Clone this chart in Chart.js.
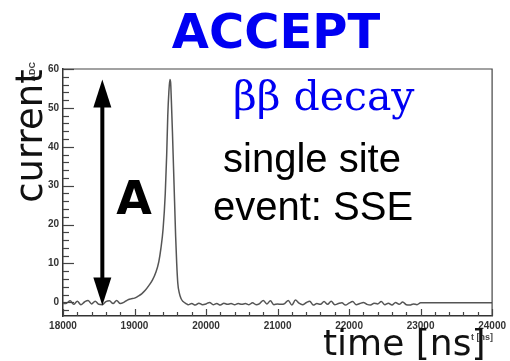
<!DOCTYPE html>
<html>
<head>
<meta charset="utf-8">
<script src="https://cdn.jsdelivr.net/npm/chart.js@4.4.0/dist/chart.umd.min.js"></script>
<style>
  html, body { margin: 0; padding: 0; background: #fff; }
  #wrap { width: 510px; height: 361px; }
</style>
</head>
<body>
<div id="wrap"><canvas id="pulse" width="510" height="361"></canvas></div>
<script>
// --- PULSE DATA (time in ns, current in ADC counts) ---
const timeNs = [
  18000, 18050, 18100, 18150, 18200, 18250, 18300, 18350, 18400, 18450,
  18500, 18550, 18600, 18650, 18700, 18750, 18800, 18850,
  18900, 18950, 19000, 19050, 19100, 19150, 19200, 19250, 19300, 19340,
  19370, 19400, 19430, 19450, 19465, 19480, 19495, 19505, 19515, 19530,
  19545, 19560, 19575, 19590, 19605, 19625, 19650, 19680, 19720,
  19750, 19800, 19850, 19900, 19950, 20000, 20050, 20100, 20150, 20200,
  20250, 20300, 20350, 20400, 20450, 20500, 20550, 20600, 20650, 20700,
  20750, 20800, 20850, 20900, 20950, 21000, 21050, 21100, 21150, 21200,
  21250, 21300, 21350, 21400, 21450, 21500, 21550, 21600, 21650, 21700,
  21750, 21800, 21850, 21900, 21950, 22000, 22050, 22100, 22150, 22200,
  22250, 22300, 22350, 22400, 22450, 22500, 22550, 22600, 22650, 22700,
  22750, 22800, 22850, 22900, 22950, 23000, 24000
];
const currentAdc = [
  -0.3, -0.2, 0.4, -0.5, 0.3, -0.6, 0.1, 0.5, -0.4, 0.3,
  -0.5, -0.6, 0.2, 0.4, -0.3, 0.5, -0.3, 0.0,
  0.6, 0.9, 1.1, 1.6, 2.2, 3.1, 4.3, 5.7, 7.8, 10.5,
  14, 19, 28, 38, 48, 54, 57.3, 56.5, 52, 44,
  35, 26, 17, 10, 5, 2.5, 1, 0.2, -0.3,
  -0.6, -0.3, -0.7, -0.2, -0.6, -0.4, 0.0, -0.6, -0.3, -0.7,
  -0.2, -0.5, -0.3, -0.6, -0.3, -0.5, -0.3, -0.6, -0.1, -0.6,
  -0.3, 0.5, -0.4, 0.4, -0.6, -0.4, -0.5, -0.3, 0.5, -0.7,
  0.6, -0.2, -0.6, -0.1, 0.3, -0.7, -0.3, -0.5, 0.2, -0.5,
  0.3, -0.6, -0.3, -0.1, -0.7, -0.2, 0.2, -0.6, -0.3, 0.0,
  -0.5, -0.7, -0.2, -0.4, 0.2, -0.6, -0.2, -0.7, 0.0, -0.5,
  0.1, -0.6, -0.7, -0.4, -0.6, -0.1, -0.1
];

// axis ticks
const xTicks = [18000, 19000, 20000, 21000, 22000, 23000, 24000];
const yTicks = [0, 10, 20, 30, 40, 50, 60];
const xMinorStep = 200;
const yMinorStep = 2;

// amplitude arrow sits here on the time axis
const arrowTime = 18550;

const peakValue = Math.max(...currentAdc);

// --- ROOT-style frame: inward ticks + top/right border ---
const rootFrame = {
  id: 'rootFrame',
  beforeDraw(chart) {
    const c = chart.ctx;
    c.save();
    c.fillStyle = '#fff';
    c.fillRect(0, 0, chart.width, chart.height);
    c.restore();
  },
  afterDatasetsDraw(chart) {
    const { ctx: c, chartArea: a, scales: { x, y } } = chart;
    c.save();
    c.strokeStyle = '#444';
    c.lineWidth = 1.2;

    // top + right border
    c.beginPath();
    c.moveTo(a.left, a.top);
    c.lineTo(a.right, a.top);
    c.lineTo(a.right, a.bottom);
    c.stroke();

    // x ticks (pointing up from the bottom axis)
    for (let t = x.min; t <= x.max + 1; t += xMinorStep) {
      const px = Math.round(x.getPixelForValue(t)) + 0.5;
      const len = xTicks.includes(t) ? 7 : 4;
      c.beginPath();
      c.moveTo(px, a.bottom);
      c.lineTo(px, a.bottom - len);
      c.stroke();
    }
    // y ticks (pointing right from the left axis)
    for (let v = -2; v <= y.max; v += yMinorStep) {
      const py = Math.round(y.getPixelForValue(v)) + 0.5;
      const len = yTicks.includes(v) ? 11 : 6;
      c.beginPath();
      c.moveTo(a.left, py);
      c.lineTo(a.left + len, py);
      c.stroke();
    }
    c.restore();
  },
  afterDraw(chart) {
    const { ctx: c, scales: { x, y } } = chart;
    c.save();

    // amplitude arrow, from baseline up to the pulse maximum
    const ax = x.getPixelForValue(arrowTime);
    const yTop = y.getPixelForValue(peakValue);
    const yBot = y.getPixelForValue(0) + 3;
    const head = 28, half = 9;
    c.fillStyle = '#000';
    c.strokeStyle = '#000';
    c.lineWidth = 4;
    c.beginPath();
    c.moveTo(ax, yTop + head - 2);
    c.lineTo(ax, yBot - head + 2);
    c.stroke();
    c.beginPath();
    c.moveTo(ax, yTop);
    c.lineTo(ax - half, yTop + head);
    c.lineTo(ax + half, yTop + head);
    c.closePath();
    c.fill();
    c.beginPath();
    c.moveTo(ax, yBot);
    c.lineTo(ax - half, yBot - head);
    c.lineTo(ax + half, yBot - head);
    c.closePath();
    c.fill();

    c.textBaseline = 'alphabetic';

    // title
    c.fillStyle = '#0000f2';
    c.textAlign = 'center';
    c.font = 'bold 48px "DejaVu Sans"';
    c.fillText('ACCEPT', 276, 48);

    c.textAlign = 'left';
    c.font = '41px "DejaVu Serif"';
    c.fillText('ββ decay', 233, 110);

    c.fillStyle = '#000';
    c.textAlign = 'center';
    c.font = '40px "Liberation Sans"';
    c.fillText('single site', 312, 172);
    c.fillText('event: SSE', 313, 220);

    c.font = 'bold 46px "DejaVu Sans"';
    c.fillText('A', 134, 214);

    // small axis names of the original histogram
    c.fillStyle = '#444';
    c.font = 'bold 9px "Liberation Sans"';
    c.textAlign = 'right';
    c.fillText('t [ns]', 493, 340);
    c.save();
    c.translate(35, 62);
    c.rotate(-Math.PI / 2);
    c.fillText('ADC', 0, 0);
    c.restore();

    // big axis titles
    c.fillStyle = '#111';
    c.font = '36px "DejaVu Sans"';
    c.textAlign = 'left';
    c.fillText('time [ns]', 323, 355);
    c.save();
    c.translate(42, 136);
    c.rotate(-Math.PI / 2);
    c.textAlign = 'center';
    c.font = '37px "DejaVu Sans"';
    c.fillText('current', 0, 0);
    c.restore();

    c.restore();
  }
};

const points = timeNs.map((t, i) => ({ x: t, y: currentAdc[i] }));

new Chart(document.getElementById('pulse'), {
  type: 'line',
  data: {
    datasets: [{
      data: points,
      borderColor: '#555',
      borderWidth: 1.5,
      pointRadius: 0,
      cubicInterpolationMode: 'monotone',
      fill: false
    }]
  },
  options: {
    responsive: false,
    animation: false,
    events: [],
    layout: { padding: { left: 0, top: 69, right: 16, bottom: 0 } },
    plugins: { legend: { display: false }, tooltip: { enabled: false } },
    scales: {
      x: {
        type: 'linear',
        min: 18000,
        max: 24000,
        afterBuildTicks: s => { s.ticks = xTicks.map(v => ({ value: v })); },
        afterFit: s => { s.height = 45; },
        grid: { display: false, drawTicks: false },
        border: { display: true, color: '#333', width: 1.5 },
        ticks: {
          padding: 4,
          maxRotation: 0,
          autoSkip: false,
          color: '#333',
          font: { family: 'Liberation Sans', weight: 'bold', size: 10 },
          callback: v => String(v)
        }
      },
      y: {
        min: -3.5,
        max: 60,
        afterBuildTicks: s => { s.ticks = yTicks.map(v => ({ value: v })); },
        afterFit: s => { s.width = 63; },
        grid: { display: false, drawTicks: false },
        border: { display: true, color: '#333', width: 1.5 },
        ticks: {
          padding: 4,
          autoSkip: false,
          color: '#333',
          font: { family: 'Liberation Sans', weight: 'bold', size: 10 }
        }
      }
    }
  },
  plugins: [rootFrame]
});
</script>
</body>
</html>
